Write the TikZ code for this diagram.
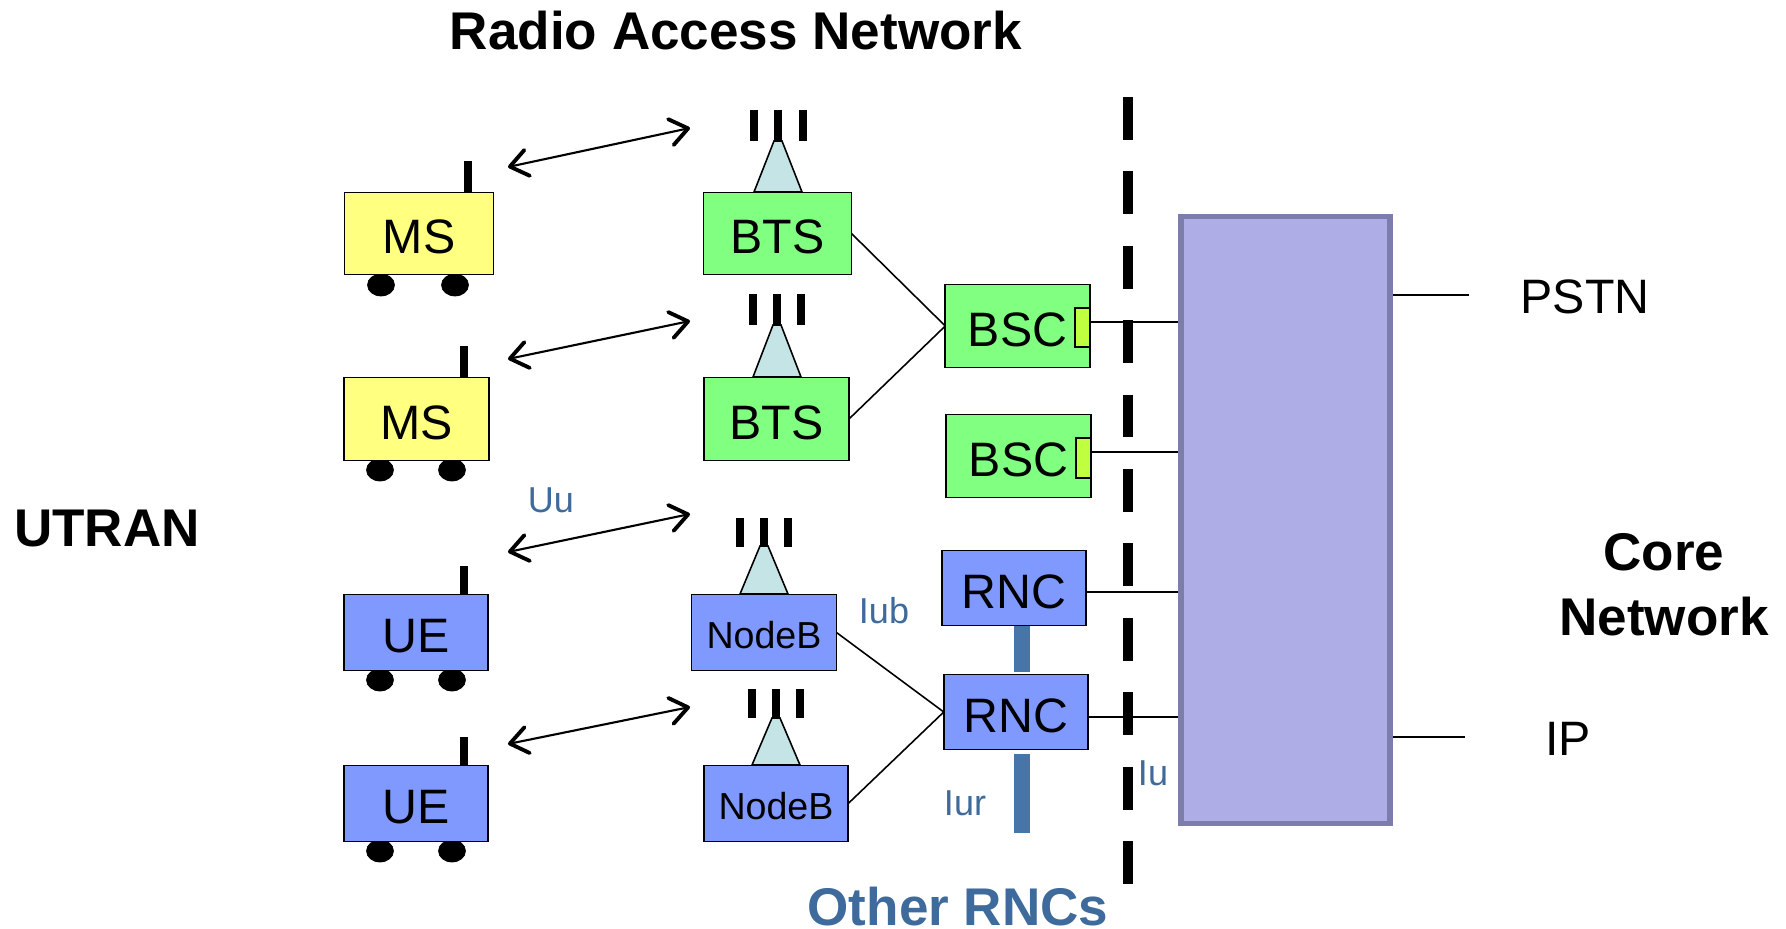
\documentclass[tikz,border=0pt]{standalone}
\usepackage{fontspec}
\setmainfont{Liberation Sans}
\usetikzlibrary{arrows.meta}
\definecolor{msyellow}{HTML}{FFFF80}
\definecolor{btsgreen}{HTML}{80FF80}
\definecolor{ueblue}{HTML}{8099FF}
\definecolor{tabgreen}{HTML}{BFFF3F}
\definecolor{conefill}{HTML}{C4E4E6}
\definecolor{corefill}{HTML}{AEADE5}
\definecolor{coreline}{HTML}{7C7DAD}
\definecolor{iurblue}{HTML}{4775A7}
\definecolor{labelblue}{HTML}{3E6A9C}
\tikzset{
  box/.style = {draw, line width = 1pt, inner sep = 0pt, outer sep = 0pt, text height = 23pt, text depth = 0pt, font = \fontsize{27.5}{30}\selectfont},
  msbox/.style = {box, fill = msyellow},
  btsbox/.style = {box, fill = btsgreen},
  uebox/.style = {box, fill = ueblue},
  nbbox/.style = {box, fill = ueblue, text height = 18pt, font = \fontsize{21.4}{25}\selectfont},
  tabbox/.style = {draw, line width = 0.9pt, fill = tabgreen},
  cone/.style = {draw, line width = 0.9pt, fill = conefill},
  mast/.style = {line width = 4.8pt},
  radio/.style = {line width = 1.2pt, {Straight Barb[length=10pt,width=15pt,line width=2.2pt,round]}-{Straight Barb[length=10pt,width=15pt,line width=2.2pt,round]}},
  link/.style = {line width = 0.9pt},
  iur/.style = {line width = 9pt, iurblue},
  lab/.style = {text = labelblue, inner sep = 0pt, font = \fontsize{20.5}{24}\selectfont},
  title/.style = {inner sep = 0pt, font = \fontsize{30.2}{36}\selectfont\bfseries},
  ext/.style = {inner sep = 0pt, font = \fontsize{27.5}{30}\selectfont}
}
\begin{document}
\begin{tikzpicture}[x = 0.02cm, y = -0.02cm]
      \useasboundingbox (0,0) rectangle (1786,929);
      % titles
      \node[title] at (736,31) (RAN) {Radio Access Network};
      \node[title] at (107,529) (UT) {UTRAN};
      \node[title, align = center] at (1664,585) (CT) {Core\\[1pt]Network};
      \node[title, text = labelblue] at (958,907) (OR) {Other RNCs};
      % wheels
      \draw[fill = black] (381,285) ellipse (13.5 and 11);
      \draw[fill = black] (455,285) ellipse (13.5 and 11);
      \draw[fill = black] (380,470) ellipse (13.5 and 11);
      \draw[fill = black] (452,470) ellipse (13.5 and 11);
      \draw[fill = black] (380,680) ellipse (13.5 and 11);
      \draw[fill = black] (452,680) ellipse (13.5 and 11);
      \draw[fill = black] (380,851) ellipse (13.5 and 11);
      \draw[fill = black] (452,851) ellipse (13.5 and 11);
      % terminal masts
      \draw[mast] (468,161) -- (468,192);
      \draw[mast] (464,346) -- (464,377);
      \draw[mast] (464,566) -- (464,594);
      \draw[mast] (464,737) -- (464,765);
      % terminals
      \node[msbox, minimum width = 2.98cm, minimum height = 1.64cm] at (419,233.5) (MS1) {MS};
      \node[msbox, minimum width = 2.89cm, minimum height = 1.66cm] at (416.5,419) (MS2) {MS};
      \node[uebox, minimum width = 2.88cm, minimum height = 1.52cm] at (416,632.5) (UE1) {UE};
      \node[uebox, minimum width = 2.88cm, minimum height = 1.52cm] at (416,803.5) (UE2) {UE};
      % first base station
      \draw[cone] (774,141) -- (782,141) -- (802,192) -- (754,192) -- cycle;
      \draw[mast] (754,110) -- (754,141);
      \draw[mast] (778,110) -- (778,141);
      \draw[mast] (803,110) -- (803,141);
      \node[btsbox, minimum width = 2.96cm, minimum height = 1.64cm] at (777.5,233.5) (BTS1) {BTS};
      % second base station
      \draw[cone] (773,325) -- (781,325) -- (801,377) -- (753,377) -- cycle;
      \draw[mast] (753,294) -- (753,325);
      \draw[mast] (777,294) -- (777,325);
      \draw[mast] (801,294) -- (801,325);
      \node[btsbox, minimum width = 2.9cm, minimum height = 1.66cm] at (776.5,419) (BTS2) {BTS};
      % first node b
      \draw[cone] (760,546) -- (768,546) -- (788,594) -- (740,594) -- cycle;
      \draw[mast] (740,518) -- (740,547);
      \draw[mast] (764,518) -- (764,547);
      \draw[mast] (788,518) -- (788,547);
      \node[nbbox, minimum width = 2.9cm, minimum height = 1.52cm] at (764,632.5) (NB1) {NodeB};
      % second node b
      \draw[cone] (772,718) -- (780,718) -- (800,765) -- (752,765) -- cycle;
      \draw[mast] (752,689) -- (752,718);
      \draw[mast] (776,689) -- (776,718);
      \draw[mast] (800,689) -- (800,718);
      \node[nbbox, minimum width = 2.89cm, minimum height = 1.52cm] at (776,803.5) (NB2) {NodeB};
      % radio links
      \coordinate (A1) at (508,167);
      \coordinate (B1) at (690,128);
      \coordinate (A2) at (508,359);
      \coordinate (B2) at (690,321);
      \coordinate (A3) at (508,552);
      \coordinate (B3) at (690,514);
      \coordinate (A4) at (508,744);
      \coordinate (B4) at (690,707);
      \draw[radio] (A1) -- (B1);
      \draw[radio] (A2) -- (B2);
      \draw[radio] (A3) -- (B3);
      \draw[radio] (A4) -- (B4);
      % iur bars
      \coordinate (I1) at (1022,754);
      \coordinate (I2) at (1022,833);
      \draw[iur] (1022,625) -- (1022,672);
      \draw[iur] (I1) -- (I2);
      % controllers
      \node[btsbox, minimum width = 2.89cm, minimum height = 1.66cm] at (1017.5,326) (BSC1) {BSC};
      \node[btsbox, minimum width = 2.89cm, minimum height = 1.66cm] at (1018.5,456) (BSC2) {BSC};
      \node[uebox, minimum width = 2.88cm, minimum height = 1.5cm] at (1014,588) (RNC1) {RNC};
      \node[uebox, minimum width = 2.89cm, minimum height = 1.5cm] at (1016,712) (RNC2) {RNC};
      \draw[tabbox] (1075,308) rectangle (1090,347);
      \draw[tabbox] (1076,438) rectangle (1091,478);
      % iu boundary
      \draw[line width = 5.85pt, dash pattern = on 24.4pt off 17.95pt] (1128,97) -- (1128,886);
      % core network
      \node[draw = coreline, fill = corefill, line width = 3.3pt, inner sep = 0pt, minimum width = 4.19cm, minimum height = 12.14cm] at (1285.5,520) (CN) {};
      % backhaul links
      \draw[link] (BTS1.east) -- (BSC1.west);
      \draw[link] (BTS2.east) -- (BSC1.west);
      \draw[link] (NB1.east) -- (RNC2.west);
      \draw[link] (NB2.east) -- (RNC2.west);
      % core links
      \coordinate (P1) at (1090,322);
      \coordinate (P2) at (1091,452);
      \coordinate (P3) at (1086,592);
      \coordinate (P4) at (1089,717);
      \draw[link] (P1) -- (P1 -| CN.west);
      \draw[link] (P2) -- (P2 -| CN.west);
      \draw[link] (P3) -- (P3 -| CN.west);
      \draw[link] (P4) -- (P4 -| CN.west);
      % outside networks
      \coordinate (S1) at (1469,295);
      \coordinate (S2) at (1465,737);
      \draw[link] (S1 -| CN.east) -- (S1);
      \draw[link] (S2 -| CN.east) -- (S2);
      \node[ext] at (1585,297) (PSTN) {PSTN};
      \node[ext] at (1568,739) (IP) {IP};
      % interface labels
      \node[lab] at (551,500) (UU) {Uu};
      \node[lab] at (884,611) (IUB) {Iub};
      \node[lab] at (1153,773) (IU) {Iu};
      \node[lab] at (965,803) (IUR) {Iur};
    \end{tikzpicture}
\end{document}
